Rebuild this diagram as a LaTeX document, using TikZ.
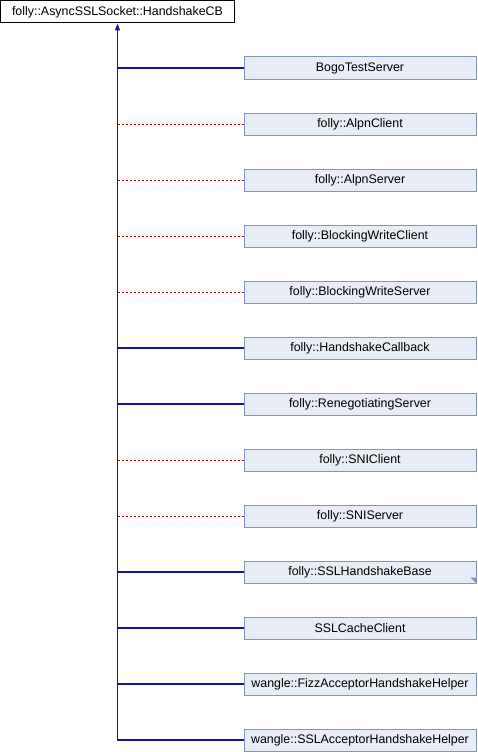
\documentclass[tikz,border=0pt]{standalone}
\usepackage{fontspec}
\setmainfont{Liberation Sans}
\usepackage{tikz}
\usetikzlibrary{arrows.meta}
\usetikzlibrary{positioning}

\definecolor{linkblau}{RGB}{20,20,150}
\definecolor{linkrot}{RGB}{180,0,0}
\definecolor{kastenrand}{RGB}{124,149,198}
\definecolor{kastenfuell}{RGB}{232,236,245}

\tikzset{
  kasten/.style={draw=kastenrand, fill=kastenfuell, line width=1pt,
    minimum width=232pt, minimum height=22pt, inner sep=0pt,
    font=\fontsize{12.4}{14}\selectfont},
  basis/.style={draw=black, fill=white, line width=1pt,
    minimum width=234pt, minimum height=22pt, inner sep=0pt,
    font=\fontsize{12.4}{14}\selectfont},
  oeff/.style={draw=linkblau, line width=1.1pt},
  priv/.style={draw=linkrot, line width=1pt, dash pattern=on 2pt off 2pt},
}

\begin{document}
\begin{tikzpicture}[x=1pt,y=-1pt]
      \useasboundingbox (0,0) rectangle (478,752);
      \node[basis] (hcb) at (117.5,12) {folly::AsyncSSLSocket::HandshakeCB};
      % Unterklassen
      \foreach \i/\name/\typ in {1/BogoTestServer/oeff,
          2/{folly::AlpnClient}/priv, 3/{folly::AlpnServer}/priv,
          4/{folly::BlockingWriteClient}/priv, 5/{folly::BlockingWriteServer}/priv,
          6/{folly::HandshakeCallback}/oeff, 7/{folly::RenegotiatingServer}/oeff,
          8/{folly::SNIClient}/priv, 9/{folly::SNIServer}/priv,
          10/{folly::SSLHandshakeBase}/oeff, 11/SSLCacheClient/oeff,
          12/{wangle::FizzAcceptorHandshakeHelper}/oeff,
          13/{wangle::SSLAcceptorHandshakeHelper}/oeff}
      {
        \node[kasten] (k\i) at (360,12+56*\i) {\name};
        \draw[\typ] (k\i.west) -- (k\i.west -| hcb.south);
      }
      % Senkrechte Linie mit Pfeil
      \draw[oeff,-{Triangle[length=7pt,width=5pt]}] (k13.west) -| (hcb.south);
      \fill[kastenrand] (k10.south east) -- ++(0,-6) -- ++(-6,0) -- cycle;
\end{tikzpicture}
\end{document}
